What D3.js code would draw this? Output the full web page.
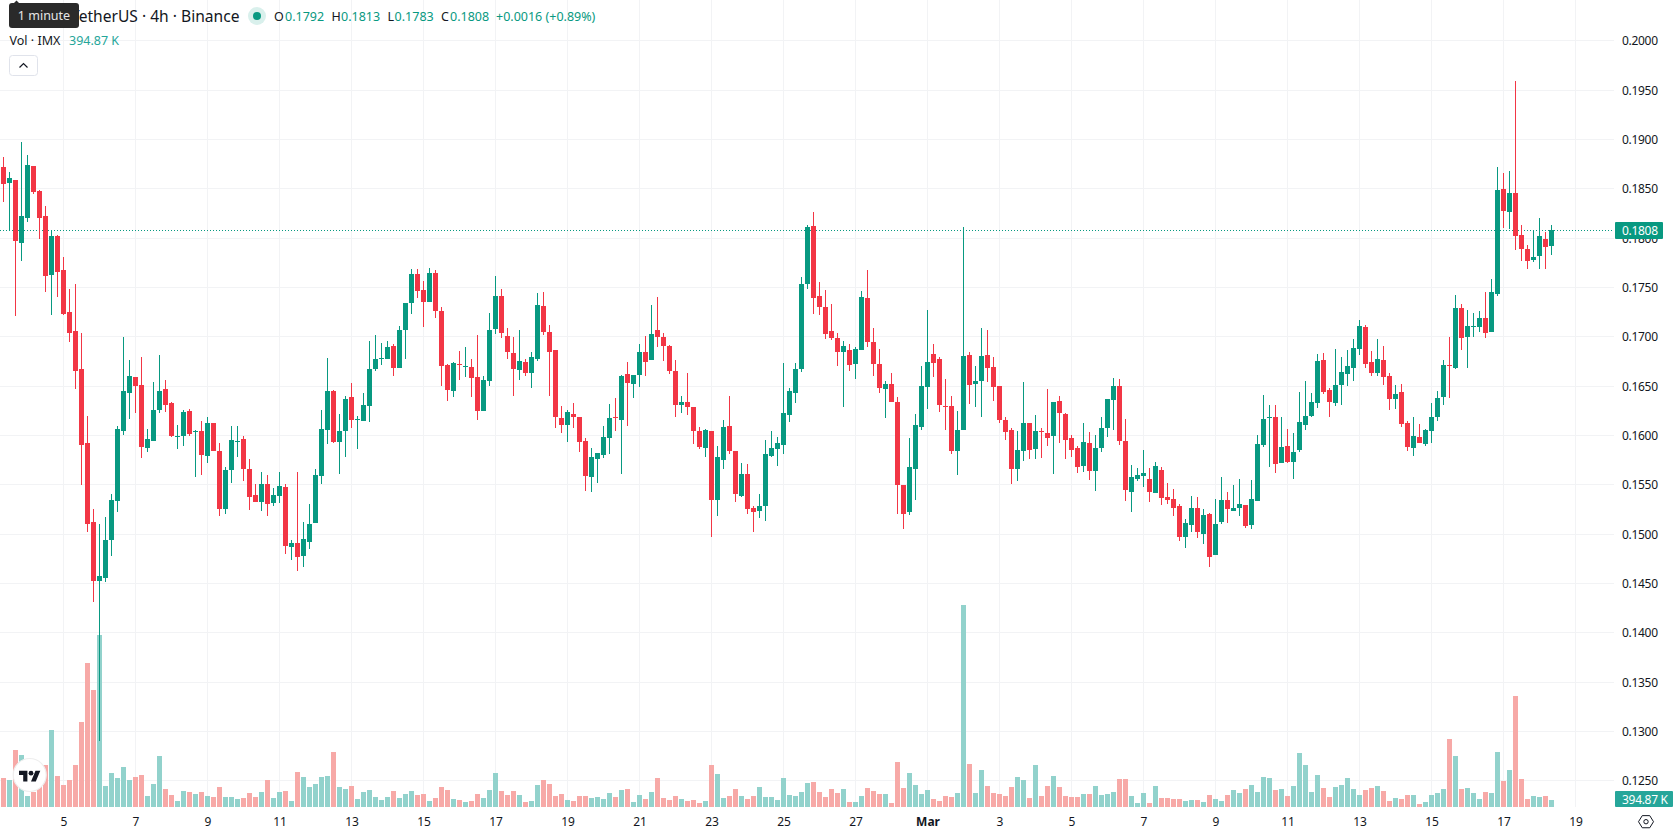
<!DOCTYPE html>
<html>
<head>
<meta charset="utf-8">
<title>IMX / TetherUS 4h</title>
<script src="https://cdn.jsdelivr.net/npm/d3@7"></script>
<style>
  html, body { margin: 0; padding: 0; background: #fff; overflow: hidden; }
  svg { display: block; }
  text { font-family: "Noto Sans", sans-serif; fill: #131722; }
</style>
</head>
<body>
<svg id="chart" width="1678" height="835"></svg>
<script>
// 4h candles, oldest first
const opens = [.18721,.18559,.18590,.17951,.18204,.18731,.18478,.18225,.17627,.18022,.17677,.17252,.17059,.16674,.15924,.15123,.14525,.14556,.14941,.15336,.16046,.16431,.16593,.16512,.15873,.15944,.16259,.16471,.16329,.15985,.15995,.16248,.16036,.16046,.15792,.16127,.15843,.15255,.15650,.15934,.15965,.15661,.15397,.15326,.15509,.15316,.15387,.15478,.14870,.14910,.14779,.14921,.15113,.15590,.16056,.16451,.15934,.16046,.16390,.16157,.16147,.16299,.16674,.16775,.16775,.16907,.16684,.17069,.17343,.17637,.17475,.17353,.17647,.17262,.16715,.16451,.16725,.16694,.16694,.16593,.16248,.16552,.17079,.17414,.17009,.16836,.16664,.16745,.16634,.16775,.17313,.17049,.16867,.16177,.16107,.16218,.16188,.15944,.15579,.15762,.15802,.15975,.16188,.16157,.16623,.16522,.16613,.16846,.16765,.17069,.16998,.16907,.16654,.16309,.16340,.16289,.16046,.15873,.16046,.15346,.15752,.16096,.15843,.15387,.15610,.15265,.15235,.15286,.15792,.15863,.15904,.16208,.16431,.16674,.17536,.18123,.17414,.17302,.17059,.16988,.16846,.16867,.16725,.16867,.17394,.16948,.16725,.16471,.16522,.16340,.15498,.15225,.15661,.16086,.16492,.16826,.16775,.16299,.16299,.15843,.16056,.16816,.16522,.16552,.16816,.16694,.16502,.16157,.16056,.15661,.15843,.16127,.15863,.16046,.16025,.15995,.16350,.16218,.15975,.15873,.15691,.15924,.15640,.15873,.16076,.16360,.16502,.15944,.15427,.15559,.15590,.15559,.15417,.15650,.15377,.15356,.15286,.14971,.15093,.15265,.15002,.15204,.14789,.15123,.15346,.15235,.15265,.15296,.15093,.15336,.15904,.16177,.16188,.15721,.15894,.15731,.15853,.16106,.16198,.16329,.16765,.16461,.16329,.16512,.16623,.16684,.16877,.17100,.16745,.16634,.16765,.16603,.16370,.16441,.16127,.15873,.15985,.15914,.16046,.16188,.16390,.16715,.16684,.17292,.16998,.17100,.17100,.17191,.17049,.17434,.18498,.18265,.18458,.18032,.17890,.17779,.17819,.17992,.1792];
const highs = [.18823,.18671,.18590,.18975,.18843,.18731,.18488,.18326,.18083,.18032,.17809,.17485,.17536,.17039,.16198,.15255,.15103,.15174,.15407,.16096,.16998,.16765,.16593,.16796,.16066,.16542,.16816,.16563,.16340,.16106,.16259,.16269,.16056,.16147,.16188,.16127,.15924,.15681,.16096,.16096,.15995,.15762,.15509,.15630,.15600,.15468,.15630,.15509,.14941,.15630,.15123,.15306,.15661,.16259,.16786,.16461,.16218,.16400,.16532,.16198,.16431,.16958,.17019,.16938,.16958,.16927,.17110,.17343,.17688,.17688,.17566,.17698,.17677,.17302,.16725,.16745,.16857,.16897,.16775,.17019,.16603,.17242,.17617,.17485,.17090,.16998,.17069,.16775,.16846,.17444,.17454,.17120,.16867,.16299,.16259,.16329,.16188,.15975,.15873,.15823,.16096,.16319,.16380,.16613,.16745,.16613,.16927,.17009,.17323,.17404,.17039,.16917,.16765,.16400,.16634,.16289,.16086,.16066,.16046,.15894,.16157,.16400,.15843,.15721,.15711,.15286,.15407,.15954,.16046,.15985,.16735,.16481,.16735,.17606,.18133,.18265,.17556,.17475,.17333,.17039,.16958,.16927,.16897,.17465,.17677,.17090,.16877,.16552,.16633,.16390,.15498,.15975,.16218,.16704,.17272,.16927,.16796,.16573,.16400,.16248,.18113,.16846,.16704,.17090,.17069,.16796,.16502,.16188,.16076,.16046,.16542,.16127,.16208,.16076,.16471,.16340,.16400,.16228,.16005,.15894,.16127,.16036,.16005,.16188,.16370,.16583,.16573,.16167,.15701,.15671,.15853,.15671,.15731,.15681,.15519,.15458,.15306,.15154,.15387,.15377,.15255,.15215,.15356,.15579,.15427,.15498,.15559,.15296,.15549,.16005,.16410,.16309,.16309,.16188,.16066,.16025,.16441,.16552,.16431,.16826,.16836,.16481,.16877,.16796,.16867,.16978,.17171,.17120,.16856,.16978,.16907,.16634,.16512,.16522,.16147,.16188,.16117,.16066,.16329,.16451,.16765,.16998,.17424,.17333,.17272,.17242,.17262,.17454,.17586,.18721,.18660,.18681,.19593,.18133,.17931,.18083,.18204,.18063,.1813];
const lows = [.18367,.18073,.17211,.17769,.18164,.18448,.17992,.17454,.17221,.17404,.17221,.16948,.16471,.15498,.15022,.14313,.12907,.14515,.14779,.15225,.16005,.16167,.16228,.15772,.15833,.15944,.16228,.16238,.15985,.15863,.15894,.15995,.15579,.15600,.15721,.15843,.15184,.15204,.15519,.15782,.15539,.15245,.15326,.15235,.15184,.15286,.15316,.14799,.14738,.14627,.14667,.14850,.15113,.15509,.15914,.15924,.15610,.15782,.16076,.15863,.16147,.16137,.16654,.16715,.16775,.16603,.16684,.16775,.17232,.17394,.17100,.17353,.17191,.16502,.16350,.16390,.16563,.16593,.16390,.16157,.16248,.16502,.17029,.16988,.16775,.16400,.16563,.16603,.16482,.16755,.17019,.16400,.16076,.16025,.15934,.16076,.15833,.15438,.15427,.15519,.15772,.15813,.16046,.15610,.16096,.16380,.16492,.16603,.16765,.16897,.16755,.16623,.16188,.16228,.16208,.15914,.15863,.15782,.14971,.15184,.15661,.15813,.15326,.15377,.15204,.15022,.15164,.15134,.15782,.15691,.15813,.16137,.16329,.16644,.17485,.17231,.17221,.16978,.16968,.16704,.16289,.16654,.16573,.16867,.16897,.16603,.16431,.16177,.16340,.15204,.15052,.15194,.15346,.16056,.16269,.16593,.16238,.16056,.15813,.15600,.16056,.16319,.16289,.16188,.16542,.16350,.16127,.15954,.15508,.15539,.15742,.15762,.15762,.15772,.15894,.15610,.15924,.15762,.15782,.15620,.15630,.15549,.15438,.15833,.15985,.16056,.15904,.15336,.15225,.15539,.15478,.15326,.15417,.15296,.15306,.15184,.14931,.14860,.15022,.14961,.14900,.14667,.14789,.15103,.15113,.15235,.15184,.15062,.15052,.15336,.15883,.15681,.15620,.15721,.15721,.15559,.15833,.16056,.16188,.16279,.16421,.16188,.16299,.16309,.16502,.16552,.16816,.16684,.16603,.16603,.16512,.16259,.16269,.16086,.15843,.15792,.15924,.15894,.15924,.16147,.16309,.16380,.16674,.16867,.16684,.16998,.17049,.16988,.17049,.17414,.18103,.18093,.17880,.17769,.17688,.17759,.17688,.17688,.1783];
const closes = [.18549,.18610,.17971,.18225,.18742,.18468,.18204,.17617,.18022,.17657,.17231,.17039,.16654,.15904,.15103,.14525,.14576,.14941,.15346,.16066,.16451,.16603,.16502,.15883,.15965,.16259,.16451,.16309,.15995,.15995,.16238,.16015,.16046,.15802,.16127,.15843,.15255,.15650,.15954,.15944,.15661,.15377,.15326,.15509,.15306,.15397,.15488,.14880,.14910,.14769,.14951,.15103,.15600,.16066,.16451,.15934,.16046,.16370,.16157,.16167,.16309,.16674,.16775,.16786,.16897,.16684,.17069,.17343,.17637,.17465,.17353,.17647,.17262,.16704,.16461,.16735,.16715,.16704,.16583,.16248,.16563,.17069,.17414,.17039,.16846,.16674,.16755,.16634,.16796,.17323,.17049,.16846,.16188,.16107,.16238,.16188,.15934,.15590,.15782,.15823,.15985,.16177,.16177,.16603,.16532,.16613,.16846,.16745,.17029,.16998,.16907,.16654,.16309,.16340,.16289,.16046,.15884,.16056,.15346,.15782,.16086,.15843,.15407,.15610,.15255,.15225,.15286,.15813,.15873,.15924,.16228,.16451,.16674,.17536,.18113,.17394,.17302,.17029,.16988,.16846,.16907,.16715,.16877,.17404,.16948,.16725,.16481,.16522,.16340,.15498,.15204,.15681,.16106,.16502,.16745,.16735,.16309,.16289,.15843,.16056,.16806,.16512,.16552,.16806,.16684,.16492,.16157,.16036,.15661,.15853,.16127,.15853,.16046,.16036,.15975,.16340,.16228,.15953,.15853,.15681,.15934,.15640,.15873,.16076,.16370,.16502,.15944,.15448,.15579,.15600,.15620,.15427,.15691,.15365,.15346,.15265,.14971,.15113,.15265,.15022,.15194,.14769,.15103,.15346,.15255,.15265,.15306,.15083,.15356,.15914,.16167,.16188,.15711,.15883,.15731,.15833,.16137,.16198,.16340,.16755,.16441,.16340,.16512,.16644,.16704,.16887,.17110,.16725,.16634,.16775,.16593,.16370,.16421,.16117,.15883,.15995,.15924,.16056,.16188,.16380,.16715,.16704,.17292,.16988,.17110,.17110,.17191,.17039,.17454,.18488,.18275,.18458,.18022,.17890,.17769,.17809,.18022,.17910,.1808];
// Volume in thousands of IMX per candle
const volumes = [1636,1523,3215,2933,620,846,1241,2369,4343,1748,1241,1523,2369,4794,8122,6599,9701,1184,1918,1636,2256,1523,1692,1805,620,1297,2876,1015,677,338,902,846,733,846,620,564,1128,564,564,451,508,790,564,846,1523,508,846,902,338,1974,1692,1128,1297,1692,1748,3102,1128,1015,1184,451,846,959,564,395,564,902,508,733,902,677,733,338,508,1128,959,451,395,282,338,733,508,959,1918,902,677,902,677,282,338,1241,1523,1297,620,733,395,338,620,620,508,564,451,790,564,959,1015,282,677,451,846,1636,508,395,620,451,338,395,226,338,2369,1861,508,620,1015,620,451,620,1128,564,564,395,1636,677,620,846,1354,1410,846,564,1015,790,1015,282,282,620,1072,902,733,733,226,2538,1072,1918,1241,733,959,451,338,620,564,790,11393,2425,790,2087,1184,790,733,620,1128,1692,1523,508,2369,620,1184,1748,1128,620,564,564,733,733,1184,677,733,846,1579,1579,620,226,790,226,1184,508,508,451,451,338,395,395,282,677,451,338,677,959,790,1015,1241,846,1692,1636,959,1015,620,1184,3046,2369,846,1805,1072,564,1128,1241,1636,1015,677,959,1072,1184,902,338,508,451,677,677,169,282,677,790,1015,3835,2876,1015,1072,790,451,846,790,3102,1466,2087,6260,1579,451,620,564,620,394.87];

const priceTicks = [.2,.195,.19,.185,.18,.175,.17,.165,.16,.155,.15,.145,.14,.135,.13,.125];
const dayTickCandles = [10,22,34,46,58,70,82,94,106,118,130,142,154,166,178,190,202,214,226,238,250,262];
const dayTickLabels = ["5","7","9","11","13","15","17","19","21","23","25","27","Mar","3","5","7","9","11","13","15","17","19"];

const lastPrice = 0.1808;
const lastVolumeLabel = "394.87 K";
const quoteParts = [
  ["O", "0.1792"], ["H", "0.1813"], ["L", "0.1783"], ["C", "0.1808"]
];
const quoteChange = "+0.0016 (+0.89%)";

const UP = "#089981", DOWN = "#f23645";
const VOL_UP = "#92d2cc", VOL_DOWN = "#f7a9a7";
const GRID = "#f2f3f5";
const PANE_RIGHT = 1614, PANE_BOTTOM = 807;

const svg = d3.select("#chart");
const x = d3.scaleLinear().domain([0, 258]).range([3.5, 1551.5]);
const y = d3.scaleLinear().domain([.2, .125]).range([40.83, 780.83]);
const yVol = d3.scaleLinear().domain([0, d3.max(volumes)]).range([PANE_BOTTOM, 605]);
const candles = opens.map((o, i) => ({ i, o, h: highs[i], l: lows[i], c: closes[i], v: volumes[i] }));

// Grid
const grid = svg.append("g").attr("stroke", GRID).attr("shape-rendering", "crispEdges");
grid.selectAll("line.v").data(dayTickCandles).join("line").attr("class", "v")
  .attr("x1", d => x(d)).attr("x2", d => x(d)).attr("y1", 0).attr("y2", PANE_BOTTOM);
grid.selectAll("line.h").data(priceTicks).join("line").attr("class", "h")
  .attr("x1", 0).attr("x2", PANE_RIGHT)
  .attr("y1", d => Math.floor(y(d)) + .5).attr("y2", d => Math.floor(y(d)) + .5);

// Volume histogram
svg.append("g").attr("shape-rendering", "crispEdges").selectAll("rect").data(candles).join("rect")
  .attr("x", d => x(d.i) - 2.5).attr("width", 5)
  .attr("y", d => Math.round(yVol(d.v)))
  .attr("height", d => PANE_BOTTOM - Math.round(yVol(d.v)))
  .attr("fill", d => d.c >= d.o ? VOL_UP : VOL_DOWN);

// Last price guide
svg.append("line")
  .attr("x1", 0).attr("x2", PANE_RIGHT)
  .attr("y1", Math.floor(y(lastPrice)) + .5).attr("y2", Math.floor(y(lastPrice)) + .5)
  .attr("stroke", UP).attr("stroke-dasharray", "1 2");

// Candles
const cg = svg.append("g").attr("shape-rendering", "crispEdges");
cg.selectAll("line").data(candles).join("line")
  .attr("x1", d => x(d.i)).attr("x2", d => x(d.i))
  .attr("y1", d => Math.round(y(d.h))).attr("y2", d => Math.round(y(d.l)))
  .attr("stroke", d => d.c >= d.o ? UP : DOWN);
cg.selectAll("rect").data(candles).join("rect")
  .attr("x", d => x(d.i) - 2.5).attr("width", 5)
  .attr("y", d => Math.round(y(Math.max(d.o, d.c))))
  .attr("height", d => Math.max(1, Math.round(y(Math.min(d.o, d.c))) - Math.round(y(Math.max(d.o, d.c)))))
  .attr("fill", d => d.c >= d.o ? UP : DOWN);

// Price axis
const yAxis = d3.axisRight(y).tickValues(priceTicks).tickFormat(d3.format(".4f")).tickSize(0).tickPadding(0);
svg.append("g").attr("transform", "translate(1622,0)").call(yAxis)
  .call(g => g.select(".domain").remove())
  .selectAll("text").attr("font-size", 12).style("font-family", '"Noto Sans", sans-serif')
  .style("letter-spacing", "-0.3px").attr("fill", "#131722");

// Time axis
const xAxis = d3.axisBottom(x).tickValues(dayTickCandles)
  .tickFormat((d, i) => dayTickLabels[i]).tickSize(0).tickPadding(0);
svg.append("g").attr("transform", "translate(0,817)").call(xAxis)
  .call(g => g.select(".domain").remove())
  .selectAll("text").attr("font-size", 12).style("font-family", '"Noto Sans", sans-serif').attr("fill", "#131722")
  .attr("font-weight", (d, i) => dayTickLabels[i] === "Mar" ? 700 : 400);

// Last value badges
function badge(px, py, w, h, fill, label) {
  const g = svg.append("g");
  g.append("rect").attr("x", px).attr("y", py).attr("width", w).attr("height", h).attr("rx", 1).attr("fill", fill);
  g.append("text").attr("x", 1622).attr("y", py + h / 2 + .5).attr("dy", ".35em")
    .attr("font-size", 12).style("letter-spacing", "-0.3px").style("fill", "#fff").text(label);
}
badge(1615, 222, 48, 17, UP, d3.format(".4f")(lastPrice));
badge(1615, 791, 58, 16, "#26a69a", lastVolumeLabel);

// Settings icon on the axis corner
const hex = d3.range(6).map(k => {
  const a = Math.PI / 3 * k;
  return [1646 + 7.5 * Math.cos(a), 821.7 + 7 * Math.sin(a)];
});
svg.append("path").attr("d", d3.line().curve(d3.curveLinearClosed)(hex))
  .attr("fill", "none").attr("stroke", "#131722").attr("stroke-linejoin", "round");
svg.append("circle").attr("cx", 1646).attr("cy", 821.7).attr("r", 2.2)
  .attr("fill", "none").attr("stroke", "#131722");

// Logo badge
svg.append("circle").attr("cx", 29.7).attr("cy", 775).attr("r", 16.5)
  .attr("fill", "#fff").attr("stroke", "#eeeeee").attr("stroke-width", 1.2);
const logo = svg.append("g").attr("transform", "translate(19,768.4) scale(.6)").attr("fill", "#131722");
logo.append("path").attr("d", "M14 22H7V11H0V4h14v18zM28 22h-8l7.5-18h8L28 22z");
logo.append("circle").attr("cx", 20).attr("cy", 8).attr("r", 4);

// Legend: title and quote
svg.append("text").attr("x", 239.5).attr("y", 21.5).attr("text-anchor", "end")
  .attr("font-size", 15.6).text("IMX / TetherUS · 4h · Binance");
svg.append("circle").attr("cx", 257).attr("cy", 16).attr("r", 9).attr("fill", "#d9f0ec");
svg.append("circle").attr("cx", 257).attr("cy", 16).attr("r", 4).attr("fill", UP);

const quoteX = [274, 331.4, 387.5, 441];
const quoteValX = [285, 341, 394.6, 450];
quoteParts.forEach(([k, v], i) => {
  svg.append("text").attr("x", quoteX[i]).attr("y", 20.5).attr("font-size", 12.5).text(k);
  svg.append("text").attr("x", quoteValX[i]).attr("y", 20.5).attr("font-size", 12.5).style("fill", UP).text(v);
});
svg.append("text").attr("x", 496).attr("y", 20.5).attr("font-size", 12.5).style("fill", UP).text(quoteChange);

svg.append("text").attr("x", 9.5).attr("y", 44.5).attr("font-size", 12.5).text("Vol · IMX");
svg.append("text").attr("x", 69).attr("y", 44.5).attr("font-size", 12.5).style("fill", "#26a69a").text(lastVolumeLabel);

// Collapse button
svg.append("rect").attr("x", 9.5).attr("y", 55.5).attr("width", 28).attr("height", 20).attr("rx", 3)
  .attr("fill", "#fff").attr("stroke", "#e0e3eb");
svg.append("path").attr("d", "M19.5 67.5 L23.5 63.5 L27.5 67.5").attr("fill", "none").attr("stroke", "#131722").attr("stroke-width", 1.2);

// Hover tooltip
svg.append("path").attr("d", "M13 4 L16.5 0.5 L20 4 Z").attr("fill", "#2a2a2a");
svg.append("rect").attr("x", 9).attr("y", 3).attr("width", 70).attr("height", 25).attr("rx", 3).attr("fill", "#2a2a2a");
svg.append("text").attr("x", 44).attr("y", 20.2).attr("text-anchor", "middle")
  .attr("font-size", 12.5).style("fill", "#e6e6e6").text("1 minute");
</script>
</body>
</html>
